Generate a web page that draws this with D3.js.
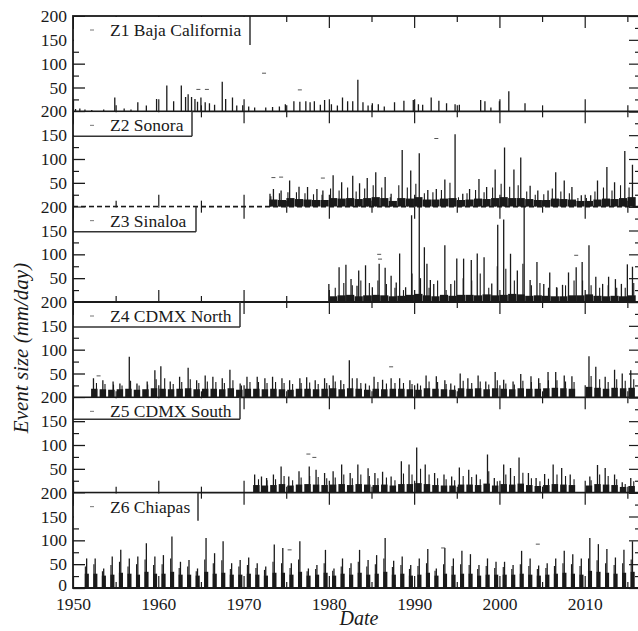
<!DOCTYPE html>
<html>
<head>
<meta charset="utf-8">
<title>Event size by zone</title>
<script src="https://d3js.org/d3.v7.min.js"></script>
<style>
  * { margin: 0; padding: 0; }
  body { background: #fff; }
  svg { display: block; }
  text { font-family: "Liberation Serif", "Times New Roman", serif; fill: #1a1a1a; }
</style>
</head>
<body>
<div id="chart"></div>
<script>
// ---- data ----
const panelNames = ["Z1 Baja California", "Z2 Sonora", "Z3 Sinaloa", "Z4 CDMX North", "Z5 CDMX South", "Z6 Chiapas"];
const yTickValues = [0, 50, 100, 150, 200];
const xTickYears = [1950, 1960, 1970, 1980, 1990, 2000, 2010];

// largest spikes: [date (decimal year), mm/day]
const z1Events = [[1950.3,5],[1950.8,6],[1951.4,4],[1952.2,3],[1953.6,4],[1954.9,29],[1956.0,6],[1956.8,4],[1957.6,19],[1958.6,12],
  [1959.8,26],[1961.0,54],[1961.8,21],[1962.7,54],[1963.2,30],[1963.5,36],[1963.9,30],[1964.3,26],[1964.6,20],[1965.0,29],
  [1965.5,19],[1966.0,17],[1966.6,14],[1967.5,62],[1967.9,26],[1968.7,29],[1969.2,12],[1969.9,13],[1970.6,10],[1971.3,8],
  [1972.6,8],[1973.4,9],[1974.2,10],[1974.9,15],[1975.9,21],[1976.6,20],[1977.3,21],[1977.8,19],[1978.3,21],[1979.0,14],
  [1979.5,24],[1980.3,15],[1981.0,12],[1981.6,29],[1982.2,21],[1982.8,21],[1983.4,66],[1984.0,19],[1984.6,12],[1985.1,17],
  [1985.8,15],[1986.5,10],[1987.7,19],[1988.8,22],[1989.9,24],[1990.5,15],[1991.0,14],[1992.0,29],[1992.9,22],[1993.8,17],
  [1994.8,15],[1995.3,14],[1997.8,24],[1998.3,21],[1999.0,8],[2000.0,21],[2001.1,42],[2003.0,17]];

const z2Events = [[1973.1,27],[1973.5,37],[1974.4,34],[1975.4,55],[1976.5,42],[1977.5,41],[1978.6,37],[1979.3,34],[1980.5,66],
  [1981.5,51],[1982.8,65],[1983.6,49],[1984.5,60],[1985.5,72],[1986.6,62],[1987.3,27],[1988.6,119],[1989.6,76],[1990.6,112],
  [1991.6,35],[1992.6,37],[1993.6,57],[1994.8,152],[1995.7,27],[1996.5,37],[1997.6,58],[1998.5,41],[1999.5,78],[2000.6,124],
  [2001.7,78],[2002.5,103],[2003.6,44],[2004.5,34],[2005.7,34],[2006.6,72],[2007.6,55],[2008.5,41],[2009.6,24],[2010.7,24],
  [2011.5,55],[2012.6,83],[2013.5,51],[2014.7,117],[2015.6,88]];

const z3Events = [[1980.0,38],[1981.2,73],[1982.0,78],[1982.6,48],[1983.3,34],[1983.5,66],[1984.3,77],[1985.1,31],[1985.9,80],
  [1986.6,72],[1987.3,55],[1987.9,41],[1988.3,102],[1989.0,31],[1989.7,182],[1990.6,210],[1991.2,115],[1991.5,80],[1991.9,46],
  [1992.3,38],[1993.6,119],[1994.3,38],[1995.0,91],[1995.8,91],[1996.7,88],[1997.4,102],[1998.2,94],[1999.1,39],[1999.8,162],
  [2000.5,173],[2001.3,101],[2002.1,66],[2002.9,210],[2003.6,46],[2004.4,84],[2005.2,38],[2005.9,62],[2006.7,31],[2007.4,36],
  [2008.1,62],[2009.0,73],[2009.7,84],[2010.5,119],[2011.3,53],[2012.1,38],[2012.8,53],[2013.6,48],[2014.3,38],[2015.0,79],[2015.6,74]];

const z4Events = [[1952.4,40],[1953.5,36],[1954.7,33],[1955.5,29],[1956.6,85],[1957.5,29],[1958.7,33],[1959.6,57],[1960.3,65],
  [1961.4,33],[1962.5,43],[1963.5,62],[1964.5,36],[1965.5,46],[1966.4,43],[1967.5,40],[1968.4,58],[1969.6,29],[1970.4,43],
  [1971.6,43],[1972.5,40],[1973.4,43],[1974.5,40],[1975.4,36],[1976.6,40],[1977.4,42],[1978.4,36],[1979.5,40],[1980.5,46],
  [1981.4,36],[1982.4,78],[1983.3,40],[1984.3,29],[1985.3,43],[1986.3,37],[1987.3,40],[1988.3,40],[1989.5,36],[1990.4,29],
  [1991.4,46],[1992.6,44],[1993.6,36],[1994.3,29],[1995.4,50],[1996.3,40],[1997.5,46],[1998.4,33],[1999.5,53],[2000.5,37],
  [2001.6,33],[2002.5,49],[2003.7,44],[2004.6,40],[2005.7,53],[2006.6,53],[2007.6,46],[2008.5,44],[2010.5,86],[2011.3,64],
  [2012.4,43],[2013.5,58],[2014.4,50],[2015.4,57]];

const z5Events = [[1971.3,38],[1972.1,34],[1972.7,31],[1973.5,38],[1974.4,55],[1975.3,34],[1976.5,45],[1977.7,55],[1978.5,48],
  [1979.5,41],[1980.5,45],[1981.5,59],[1982.5,41],[1983.4,59],[1984.6,51],[1985.4,41],[1986.3,44],[1987.3,34],[1988.5,66],
  [1989.4,59],[1990.3,95],[1991.3,59],[1992.4,41],[1993.5,38],[1994.4,34],[1995.3,53],[1996.4,48],[1997.3,38],[1998.6,80],
  [1999.4,31],[2000.5,59],[2001.3,52],[2002.3,74],[2003.4,41],[2004.3,31],[2005.3,39],[2006.3,59],[2007.3,52],[2008.3,38],
  [2010.6,34],[2011.5,58],[2012.4,52],[2013.5,38],[2014.4,22],[2015.4,31]];

const z6FirstYear = 1951;
const z6Peaks = [62,62,41,66,80,62,66,94,66,69, 108,55,59,41,105,73,98,52,59,64, 52,45,91,84,52,98,41,48,80,41,
  62,52,80,59,69,105,57,66,48,62, 82,41,84,62,78,71,48,62,55,55, 48,78,62,47,52,62,78,71,62,105, 92,82,64,80,98];

// second-largest spike of each year's season
const z2SecondStart = 1973;
const z2Second = [22,28,30,30,28,26,25,38,34,40, 32,38,45,40,20,45,40,48,28,30, 35,50,20,28,35,30,40,48,42,45,
  32,25,26,38,32,28,18,18,32,40, 34,45,40];
const z3SecondStart = 1980;
const z3Second = [30,40,35,45,40,45,38,30,25,60, 50,30,45,25,45,50,45,60,30,75, 70,45,80,35,40,30,30,35,45,45,
  35,30,35,30,30,40];
const z4SecondStart = 1952;
const z4Second = [30,28,27,25,35,25,27,38,40,28, 32,38,30,33,32,30,36,25,32,32, 30,32,30,28,30,31,28,30,33,28,
  40,30,25,32,29,30,30,28,25,33, 32,28,25,35,30,33,27,36,29,27, 35,32,30,36,36,33,32,null,45,38, 32,38,35,38];
const z5SecondStart = 1971;
const z5Second = [28,26,28,35,26,32,35,33,30,32, 38,30,38,35,30,32,26,40,38,50, 38,30,28,26,35,33,28,45,24,38,
  35,42,30,24,29,38,35,28,null,26, 38,35,28,18,24];
const z6SecondStart = 1951;
const z6Second = [45,50,35,48,55,45,50,60,48,50, 62,42,45,35,60,52,58,40,45,48, 42,38,55,52,42,60,35,40,52,36,
  45,42,55,45,50,62,44,48,40,46, 52,36,50,46,50,48,40,46,42,44, 40,50,46,40,42,46,52,50,46,62, 58,52,48,52,60];

// typical wet-season level per year (dense part under the spikes)
const z2BulkStart = 1973;
const z2Bulk = [15,14,18,16,15,14,14,18,17,18, 16,18,20,18,12,18,17,20,15,15, 17,18,14,15,17,16,18,20,18,18,
  16,14,14,17,16,15,12,12,15,17, 16,18,20];
const z3BulkStart = 1980;
const z3Bulk = [12,14,15,12,14,15,14,12,13,15, 17,14,12,15,13,15,15,14,16,14, 15,17,16,13,14,13,12,12,14,14,
  16,13,12,13,12,14];
const z4BulkStart = 1952;
const z4Bulk = [18,17,16,17,18,16,17,19,18,17, 18,19,17,18,18,17,19,16,18,18, 17,18,17,16,18,18,17,18,19,17,
  19,18,16,18,17,18,18,17,16,19, 18,17,16,19,18,19,17,19,18,17, 19,18,18,19,20,19,18,null,22,20, 18,20,19,20];
const z5BulkStart = 1971;
const z5Bulk = [16,15,16,18,15,17,18,17,16,17, 18,16,18,17,16,17,15,18,18,20, 18,16,15,15,17,17,16,19,15,18,
  17,19,16,14,16,18,17,16,null,15, 18,17,16,12,14];
const z6BulkStart = 1951;
const z6Bulk = [30,30,26,28,32,30,28,34,30,30, 34,28,28,26,34,30,32,28,28,30, 28,26,32,32,28,34,26,28,32,26,
  30,28,32,28,30,34,28,30,26,28, 32,26,30,28,30,30,26,28,28,28, 28,30,28,26,28,30,32,30,28,36, 34,32,30,32,34];

// isolated point markers
const z1Dots = [[1964.7,46],[1965.7,46],[1972.4,80],[1976.6,45]];
const z2Dots = [[1973.5,61],[1974.4,62],[1979.3,60],[1992.6,143]];
const z3Dots = [[1985.9,100],[1986.0,90],[2009.0,98]];
const z4Dots = [[1987.3,64],[1953.0,45]];
const z5Dots = [[1977.6,81],[1978.3,74]];
const z6Dots = [[1975.4,80],[1993.4,84],[2004.5,92]];

// ---- assemble ----
function yearRows(start, values) {
  return values.map((v, i) => ({ year: start + i, v })).filter(d => d.v != null);
}
const panels = [
  { events: z1Events, second: [], bulk: [], dots: z1Dots, span: [0, 1], secondAt: 0 },
  { events: z2Events, second: yearRows(z2SecondStart, z2Second), bulk: yearRows(z2BulkStart, z2Bulk), dots: z2Dots, span: [0.02, 0.98], secondAt: 0.2 },
  { events: z3Events, second: yearRows(z3SecondStart, z3Second), bulk: yearRows(z3BulkStart, z3Bulk), dots: z3Dots, span: [0.02, 0.98], secondAt: 0.75 },
  { events: z4Events, second: yearRows(z4SecondStart, z4Second), bulk: yearRows(z4BulkStart, z4Bulk), dots: z4Dots, span: [0.12, 0.88], secondAt: 0.75 },
  { events: z5Events, second: yearRows(z5SecondStart, z5Second), bulk: yearRows(z5BulkStart, z5Bulk), dots: z5Dots, span: [0.12, 0.88], secondAt: 0.75 },
  { events: z6Peaks.map((v, i) => [z6FirstYear + i + 0.6, v]), second: yearRows(z6SecondStart, z6Second),
    bulk: yearRows(z6BulkStart, z6Bulk), dots: z6Dots, span: [0.38, 0.86], secondAt: 0.45 }
];
// legend box layout: width and height
const legendBox = [{ w: 177, h: 29, bottom: false }, { w: 119, h: 25, bottom: true }, { w: 123, h: 25, bottom: true },
  { w: 167, h: 25, bottom: true }, { w: 167, h: 22, bottom: true }, { w: 125, h: 28, bottom: false }];

const W = 638, H = 631;
const plotLeft = 73, plotRight = 641, plotTop = 16, plotBottom = 588;
const panelH = (plotBottom - plotTop) / 6;
const ink = "#1a1a1a";
const serif = "'Liberation Serif', 'Times New Roman', serif";

const svg = d3.select("#chart").append("svg").attr("width", W).attr("height", H);
const x = d3.scaleLinear().domain([1950, 2016.6]).range([plotLeft, plotRight]);

const minorYears = d3.range(1955, 2020, 10);
const minorY = [25, 75, 125, 175];

panels.forEach((p, i) => {
  const y0 = plotTop + i * panelH;
  const y = d3.scaleLinear().domain([0, 200]).range([y0 + panelH, y0]);
  const g = svg.append("g").attr("class", "panel");

  const clipId = "clip" + i;
  svg.append("clipPath").attr("id", clipId)
    .append("rect").attr("x", plotLeft).attr("y", y0).attr("width", plotRight - plotLeft).attr("height", panelH);

  const data = g.append("g").attr("clip-path", `url(#${clipId})`);

  // dense wet-season part
  data.selectAll("rect.bulk").data(p.bulk).join("rect")
    .attr("class", "bulk")
    .attr("x", d => x(d.year + p.span[0]))
    .attr("width", d => x(d.year + p.span[1]) - x(d.year + p.span[0]))
    .attr("y", d => y(d.v))
    .attr("height", d => y(0) - y(d.v))
    .attr("fill", ink);

  // second spikes
  data.selectAll("line.second").data(p.second).join("line")
    .attr("class", "second")
    .attr("x1", d => x(d.year + p.secondAt)).attr("x2", d => x(d.year + p.secondAt))
    .attr("y1", y(0)).attr("y2", d => y(d.v))
    .attr("stroke", ink).attr("stroke-width", 1.1);

  // main spikes
  data.selectAll("line.spike").data(p.events).join("line")
    .attr("class", "spike")
    .attr("x1", d => x(d[0])).attr("x2", d => x(d[0]))
    .attr("y1", y(0)).attr("y2", d => y(d[1]))
    .attr("stroke", ink).attr("stroke-width", 1.3);

  // marker dashes
  data.selectAll("line.dot").data(p.dots).join("line")
    .attr("class", "dot")
    .attr("x1", d => x(d[0]) - 2).attr("x2", d => x(d[0]) + 2)
    .attr("y1", d => y(d[1])).attr("y2", d => y(d[1]))
    .attr("stroke", "#555").attr("stroke-width", 1);

  // y axes (ticks pointing inward)
  const ax = g.append("g").attr("transform", `translate(${plotLeft},0)`)
    .call(d3.axisLeft(y).tickValues(i === 5 ? yTickValues : yTickValues.slice(1)).tickSizeInner(-12).tickSizeOuter(0).tickPadding(6));
  ax.select(".domain").remove();
  ax.selectAll("text").style("font-size", "17.5px").style("font-family", serif).attr("fill", ink);
  ax.selectAll("line").attr("stroke", ink).attr("stroke-width", 1.3);
  if (i === 5) ax.selectAll("text").filter(d => d === 0).attr("dy", "0.12em");

  const axm = g.append("g").attr("transform", `translate(${plotLeft},0)`)
    .call(d3.axisLeft(y).tickValues(minorY).tickSize(-6).tickFormat(""));
  axm.select(".domain").remove();
  axm.selectAll("line").attr("stroke", ink).attr("stroke-width", 1.2);

  [[yTickValues, 12], [minorY, 6]].forEach(([vals, len]) => {
    const ar = g.append("g").attr("transform", `translate(${plotRight},0)`)
      .call(d3.axisRight(y).tickValues(vals).tickSize(-len).tickFormat(""));
    ar.select(".domain").remove();
    ar.selectAll("line").attr("stroke", ink).attr("stroke-width", 1.2);
  });

  // x ticks on top and bottom of each panel, inward
  [[xTickYears, 12], [minorYears, 6]].forEach(([vals, len]) => {
    const ab = g.append("g").attr("transform", `translate(0,${y0 + panelH})`)
      .call(d3.axisBottom(x).tickValues(vals).tickSize(-len).tickFormat(""));
    ab.select(".domain").remove();
    ab.selectAll("line").attr("stroke", ink).attr("stroke-width", 1.2);
    const at = g.append("g").attr("transform", `translate(0,${y0})`)
      .call(d3.axisTop(x).tickValues(vals).tickSize(-len).tickFormat(""));
    at.select(".domain").remove();
    at.selectAll("line").attr("stroke", ink).attr("stroke-width", 1.2);
  });

  // panel bottom line (Z2 dashed)
  g.append("line")
    .attr("x1", plotLeft).attr("x2", plotRight)
    .attr("y1", y0 + panelH).attr("y2", y0 + panelH)
    .attr("stroke", ink).attr("stroke-width", 1.8)
    .attr("stroke-dasharray", i === 1 ? "5,3" : null);

  // legend box
  const lb = legendBox[i];
  const lg = g.append("g");
  lg.append("rect").attr("x", plotLeft + 1).attr("y", y0 + 1).attr("width", lb.w - 1).attr("height", lb.h - 1).attr("fill", "#fff");
  lg.append("line").attr("x1", plotLeft + lb.w).attr("x2", plotLeft + lb.w).attr("y1", y0).attr("y2", y0 + lb.h)
    .attr("stroke", "#333").attr("stroke-width", 1.5);
  if (lb.bottom) {
    lg.append("line").attr("x1", plotLeft).attr("x2", plotLeft + lb.w).attr("y1", y0 + lb.h).attr("y2", y0 + lb.h)
      .attr("stroke", "#333").attr("stroke-width", 1.5);
  }
  lg.append("line").attr("x1", plotLeft + 17).attr("x2", plotLeft + 21).attr("y1", y0 + 14).attr("y2", y0 + 14)
    .attr("stroke", "#777").attr("stroke-width", 1);
  lg.append("text").attr("x", plotLeft + 37).attr("y", y0 + 20)
    .style("font-size", "17.5px").style("font-family", serif).text(panelNames[i]);
});

// outer frame
svg.append("rect").attr("x", plotLeft).attr("y", plotTop).attr("width", plotRight - plotLeft).attr("height", plotBottom - plotTop)
  .attr("fill", "none").attr("stroke", ink).attr("stroke-width", 1.8);

// x tick labels
const xl = svg.append("g").attr("transform", `translate(0,${plotBottom})`)
  .call(d3.axisBottom(x).tickValues(xTickYears).tickSize(0).tickPadding(10).tickFormat(d3.format("d")));
xl.select(".domain").remove();
xl.selectAll("text").style("font-size", "17.5px").style("font-family", serif).attr("fill", ink);

// axis titles
svg.append("text").attr("x", 359).attr("y", 625).attr("text-anchor", "middle")
  .style("font-size", "20px").style("font-style", "italic").style("font-family", serif).text("Date");
svg.append("text").attr("transform", "translate(28,348) rotate(-90)").attr("text-anchor", "middle")
  .style("font-size", "21px").style("font-style", "italic").style("font-family", serif).text("Event size (mm/day)");
</script>
</body>
</html>
